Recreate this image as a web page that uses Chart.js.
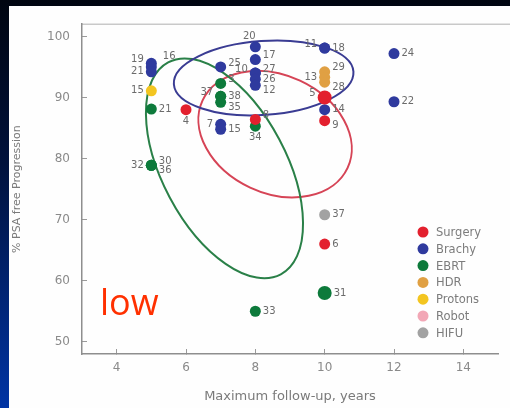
<!DOCTYPE html>
<html>
<head>
<meta charset="utf-8">
<script src="https://cdn.jsdelivr.net/npm/chart.js@4.4.1/dist/chart.umd.min.js"></script>
<style>
  html, body { margin: 0; padding: 0; width: 510px; height: 408px; overflow: hidden; }
  body { position: relative; background: linear-gradient(to bottom, #000510 0%, #00123c 40%, #0034a4 100%); }
  #panel { position: absolute; left: 9px; top: 6px; right: 0; bottom: 0; background: #fefefe; }
  #chart { position: absolute; left: 0; top: 0; }
</style>
</head>
<body>
<div id="panel"></div>
<canvas id="chart" width="510" height="408"></canvas>
<script>
// axis ticks
const xTicks = [4, 6, 8, 10, 12, 14];
const yTicks = [50, 60, 70, 80, 90, 100];

// follow-up (years), % PSA free, study reference number
const surgeryX = [6, 8, 10, 10, 10];
const surgeryY = [88, 86.4, 90, 86.2, 66];
const surgeryRef = ["4", "8", "5", "9", "6"];

const brachyX = [5, 5, 5, 7, 8, 8, 8, 8, 8, 8, 10, 10, 12, 12, 10, 7, 7];
const brachyY = [95.6, 95.0, 94.2, 95, 98.3, 96.2, 94, 94, 93, 92, 98.1, 98.1, 97.2, 89.3, 88, 85.6, 84.8];
const brachyRef = ["19", "16", "21", "25", "20", "17", "27", "10", "26", "12", "11", "18", "24", "22", "14", "7", "15"];

const ebrtX = [5, 5, 5, 5, 7, 7, 7, 7, 8, 8, 10];
const ebrtY = [88.1, 78.9, 78.9, 78.9, 92.3, 90.2, 90.2, 89.2, 85.3, 55, 58];
const ebrtRef = ["21", "32", "30", "36", "3", "38", "37", "35", "34", "33", "31"];

const hdrX = [10, 10, 10];
const hdrY = [94.2, 93.3, 92.5];
const hdrRef = ["29", "13", "28"];

const protonsX = [5];
const protonsY = [91.1];
const protonsRef = ["15"];

const robotX = [];
const robotY = [];
const robotRef = [];

const hifuX = [10];
const hifuY = [70.8];
const hifuRef = ["37"];

// where each reference number sits around its dot
const sides = {
  Surgery: ["b", "ru", "lu", "rd", "r"],
  Brachy: ["lu", "ruu", "l", "ru", "tl", "ru", "ru", "lu", "r", "rd", "lu", "r", "r", "r", "r", "l", "r"],
  EBRT: ["r", "l", "ru", "rd", "ru", "r", "lu", "rd", "b", "r", "r"],
  HDR: ["ru", "l", "rd"],
  Protons: ["l"],
  Robot: [],
  HIFU: ["r"]
};

const colors = {
  Surgery: "#e3202e",
  Brachy: "#2f3a9e",
  EBRT: "#0d7a3b",
  HDR: "#e0a043",
  Protons: "#f3c520",
  Robot: "#f2a7b6",
  HIFU: "#a2a2a2"
};

// rings around each modality group (centre in data units, radii in px)
const rings = [
  { x: 8.57, y: 84.0, a: 80, b: 59, rot: 25, color: "#d64456" },
  { x: 7.11, y: 78.4, a: 120, b: 62, rot: 62, color: "#2a8048" },
  { x: 8.24, y: 93.2, a: 90, b: 37, rot: -4, color: "#3a3c93" }
];

function pts(xs, ys) {
  return xs.map((x, i) => ({ x: x, y: ys[i] }));
}

function makeSet(label, xs, ys, refs) {
  return {
    label: label,
    data: pts(xs, ys),
    refs: refs,
    sides: sides[label],
    backgroundColor: colors[label],
    borderWidth: 0,
    pointRadius: refs.map(r => (r === "31" || r === "5") ? 7 : 5.5),
    pointHoverRadius: 5.5
  };
}

const ringPlugin = {
  id: "rings",
  beforeDatasetsDraw(chart) {
    const ctx = chart.ctx;
    const xs = chart.scales.x, ys = chart.scales.y;
    ctx.save();
    ctx.lineWidth = 2;
    rings.forEach(r => {
      ctx.beginPath();
      ctx.strokeStyle = r.color;
      ctx.ellipse(xs.getPixelForValue(r.x), ys.getPixelForValue(r.y), r.a, r.b, r.rot * Math.PI / 180, 0, Math.PI * 2);
      ctx.stroke();
    });
    ctx.restore();
  }
};

const refPlugin = {
  id: "refs",
  afterDatasetsDraw(chart) {
    const ctx = chart.ctx;
    ctx.save();
    ctx.font = '10px "DejaVu Sans"';
    ctx.fillStyle = "#6b6b6b";
    chart.data.datasets.forEach((ds, i) => {
      chart.getDatasetMeta(i).data.forEach((pt, j) => {
        const side = ds.sides[j];
        const r = pt.options.radius;
        let x = pt.x, y = pt.y;
        ctx.textAlign = "left";
        ctx.textBaseline = "middle";
        if (side[0] === "r") x += r + 2;
        if (side[0] === "l") { x -= r + 2; ctx.textAlign = "right"; }
        if (side === "ru" || side === "lu") y -= 4;
        if (side === "rd") y += 5;
        if (side === "ruu") { y -= 11; x += 4; }
        if (side === "b") { y += r + 1; ctx.textAlign = "center"; ctx.textBaseline = "top"; }
        if (side === "tl") { y -= r; x -= 6; ctx.textAlign = "center"; ctx.textBaseline = "bottom"; }
        ctx.fillText(ds.refs[j], x, y);
      });
    });
    ctx.restore();
  }
};

const framePlugin = {
  id: "frame",
  beforeDraw(chart) {
    const ctx = chart.ctx, a = chart.chartArea;
    ctx.save();
    ctx.strokeStyle = "#c9c9c9";
    ctx.lineWidth = 1.5;
    ctx.beginPath();
    ctx.moveTo(a.left, a.top);
    ctx.lineTo(chart.width, a.top);
    ctx.stroke();
    ctx.restore();
  },
  afterDraw(chart) {
    const ctx = chart.ctx, a = chart.chartArea;
    ctx.save();
    // legend inside the plot, lower right
    ctx.font = '11.5px "DejaVu Sans"';
    ctx.textBaseline = "middle";
    ctx.textAlign = "left";
    chart.data.datasets.forEach((ds, i) => {
      const y = a.bottom - 122 + i * 16.8;
      ctx.fillStyle = ds.backgroundColor;
      ctx.beginPath();
      ctx.arc(a.right - 75, y, 5.5, 0, Math.PI * 2);
      ctx.fill();
      ctx.fillStyle = "#7c7c7c";
      ctx.fillText(ds.label, a.right - 62, y + 1);
    });
    // risk group tag
    ctx.font = '36px "Open Sans"';
    ctx.fillStyle = "#ff3000";
    ctx.textBaseline = "alphabetic";
    ctx.fillText("low", 100, 315);
    ctx.restore();
  }
};

new Chart(document.getElementById("chart"), {
  type: "scatter",
  data: {
    datasets: [
      makeSet("Surgery", surgeryX, surgeryY, surgeryRef),
      makeSet("Brachy", brachyX, brachyY, brachyRef),
      makeSet("EBRT", ebrtX, ebrtY, ebrtRef),
      makeSet("HDR", hdrX, hdrY, hdrRef),
      makeSet("Protons", protonsX, protonsY, protonsRef),
      makeSet("Robot", robotX, robotY, robotRef),
      makeSet("HIFU", hifuX, hifuY, hifuRef)
    ]
  },
  options: {
    responsive: false,
    animation: false,
    devicePixelRatio: 1,
    layout: { padding: { left: 0, top: 13, right: 12, bottom: 0 } },
    plugins: { legend: { display: false }, tooltip: { enabled: false } },
    scales: {
      x: {
        type: "linear",
        min: 3,
        max: 15,
        afterBuildTicks: s => { s.ticks = xTicks.map(v => ({ value: v })); },
        afterFit: s => { s.height = 54; },
        grid: { drawOnChartArea: false, drawTicks: true, tickLength: -5, tickColor: "#9a9a9a" },
        border: { color: "#8e8e8e", width: 1.5 },
        ticks: { padding: 12, color: "#8a8a8a", font: { family: "DejaVu Sans", size: 12 } },
        title: {
          display: true,
          text: "Maximum follow-up, years",
          color: "#7a7a7a",
          font: { family: "DejaVu Sans", size: 13 },
          padding: { top: 0, bottom: 4 }
        }
      },
      y: {
        type: "linear",
        min: 48,
        max: 102,
        afterBuildTicks: s => { s.ticks = yTicks.map(v => ({ value: v })); },
        afterFit: s => { s.width = 82; },
        grid: { drawOnChartArea: false, drawTicks: true, tickLength: -5, tickColor: "#9a9a9a" },
        border: { color: "#8e8e8e", width: 1.5 },
        ticks: { padding: 17, color: "#8a8a8a", font: { family: "DejaVu Sans", size: 12 } },
        title: {
          display: true,
          text: "% PSA free Progression",
          color: "#7a7a7a",
          font: { family: "DejaVu Sans", size: 11 },
          padding: { top: 11, bottom: 0 }
        }
      }
    }
  },
  plugins: [ringPlugin, refPlugin, framePlugin]
});
</script>
</body>
</html>
